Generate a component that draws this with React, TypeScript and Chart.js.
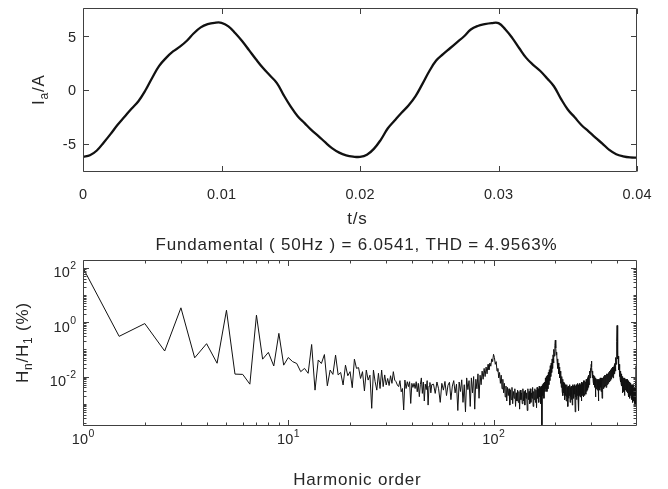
import React, { useEffect, useRef } from 'react';
import { Chart, registerables } from 'chart.js';

Chart.register(...registerables);

const W = 668;
const H = 489;
const FONT = '"Liberation Sans", Arial, Helvetica, sans-serif';
const INK = '#262626';
const AXIS = '#404040';
const TICK_SIZE = 14.5;
const TICK_SPACING = 0.3;
const LABEL_SIZE = 17;
const LABEL_SPACING = 0.8;
const LABEL_SHIFT = -3;

// ---------- top subplot: phase current ----------
const timeStepS = 0.0005; // sampling grid of the read-off waveform, 0 .. 0.04 s
const currentA = [
  -6.25, -6.1, -5.65, -4.9, -4.1, -3.25, -2.5, -1.75, -1.05, -0.05, 1.15, 2.25, 3.0, 3.6, 4.05, 4.6, 5.3, 5.85, 6.15, 6.28, 6.28,
  5.95, 5.3, 4.55, 3.7, 2.85, 2.05, 1.35, 0.65, -0.5, -1.55, -2.45, -3.1, -3.75, -4.3, -4.9, -5.45, -5.85, -6.1, -6.22, -6.25,
  -6.05, -5.5, -4.65, -3.6, -2.85, -2.12, -1.45, -0.6, 0.55, 1.75, 2.75, 3.35, 3.9, 4.45, 5.0, 5.65, 5.98, 6.15, 6.25, 6.25,
  5.65, 4.85, 3.9, 3.0, 2.35, 1.8, 1.1, 0.35, -0.8, -1.82, -2.55, -3.29, -3.86, -4.45, -5.0, -5.6, -6.0, -6.2, -6.3, -6.32,
];
const timeTicks = [0, 0.01, 0.02, 0.03, 0.04];
const timeTickLabels = ['0', '0.01', '0.02', '0.03', '0.04'];
const currentTicks = [-5, 0, 5];
const currentTickLabels = ['-5', '0', '5'];
const timeRange = [0, 0.04];
const currentRange = [-7.66, 7.66];

// ---------- bottom subplot: harmonic spectrum (log10 of Hn/H1 in %) ----------
// orders 1 .. 50 in steps of 0.5
const harmonicLowLog10 = [
  2.0, -0.52, -0.05, -1.06, 0.53, -1.31, -0.79, -1.51, 0.44, -1.91, -1.92, -2.28, 0.26, -1.36, -1.11, -1.61, -0.41, -1.58, -1.3,
  -1.45, -1.52, -1.82, -1.7, -1.88, -0.82, -2.5, -1.39, -1.52, -1.19, -2.34, -1.76, -1.92, -1.21, -1.94, -1.85, -2.31, -1.58, -1.97, -1.82,
  -2.41, -1.36, -1.7, -1.67, -2.07, -1.82, -2.53, -1.76, -2.13, -1.95, -3.17, -1.76, -2.19, -2.5, -1.88, -2.44, -1.76, -2.37, -1.94, -2.31,
  -2.07, -2.33, -1.97, -2.25, -1.82, -2.13, -2.19, -2.31, -2.37, -2.15, -2.56, -2.44, -3.23, -2.13, -2.44, -2.19, -2.37, -2.19, -2.99, -2.25,
  -2.4, -2.25, -2.44, -2.19, -2.56, -2.25, -2.74, -2.3, -2.05, -2.62, -2.2, -2.9, -2.28, -2.48, -2.15, -3.05, -2.35, -2.22, -2.6, -2.3,
];
// orders 51 .. 500 in steps of 1
const harmonicHighLog10 = [
  -2.28, -2.62, -2.2, -2.45, -2.95, -2.25, -2.5, -2.18, -2.7, -2.32,
  -2.21, -2.85, -2.35, -2.15, -2.6, -2.28, -3.25, -2.2, -2.55, -2.12,
  -2.95, -2.3, -3.3, -2.05, -2.48, -2.15, -3.1, -2.05, -2.6, -2.0,
  -3.2, -2.1, -2.45, -1.9, -2.8, -1.95, -2.3, -1.8, -2.1, -1.7,
  -2.0, -1.65, -1.9, -1.55, -1.75, -1.5, -1.62, -1.35, -1.45, -1.18,
  -1.3, -1.55, -1.45, -1.8, -1.7, -2.05, -1.85, -2.25, -1.95, -2.45,
  -2.1, -2.6, -2.25, -2.75, -2.35, -2.9, -2.4, -2.7, -2.45, -3.05,
  -2.5, -2.85, -2.4, -3.0, -2.55, -2.8, -2.45, -3.1, -2.6, -2.9,
  -2.5, -2.95, -2.55, -3.2, -2.5, -2.85, -2.6, -3.0, -2.45, -2.9,
  -2.55, -3.05, -2.5, -2.8, -2.6, -3.25, -2.45, -2.85, -2.55, -3.0,
  -2.45, -2.95, -2.6, -2.8, -2.4, -3.1, -2.55, -2.85, -2.45, -2.95,
  -2.5, -3.15, -2.4, -2.8, -2.45, -2.95, -2.35, -2.75, -2.4, -3.0,
  -2.35, -3.78, -2.3, -2.7, -2.25, -2.8, -2.2, -2.55, -2.05, -2.45,
  -2.0, -2.55, -1.95, -2.45, -1.85, -2.3, -1.75, -2.15, -1.6, -2.0,
  -1.5, -1.85, -1.35, -1.7, -1.2, -1.5, -1.0, -1.25, -0.85, -0.66,
  -0.95, -1.2, -1.1, -1.45, -1.35, -1.7, -1.5, -1.9, -1.65, -2.05,
  -1.8, -2.25, -1.9, -2.4, -2.0, -2.55, -2.1, -2.7, -2.2, -2.6,
  -2.25, -2.85, -2.3, -2.7, -2.35, -2.9, -2.3, -2.75, -2.4, -3.1,
  -2.35, -2.8, -2.4, -2.7, -2.3, -2.95, -2.4, -2.75, -2.35, -2.85,
  -2.4, -3.05, -2.3, -2.7, -2.35, -2.8, -2.3, -2.65, -2.4, -3.3,
  -2.35, -2.75, -2.3, -2.85, -2.35, -2.7, -2.25, -2.8, -2.3, -3.25,
  -2.35, -2.7, -2.25, -2.75, -2.3, -2.65, -2.25, -2.9, -2.2, -2.7,
  -2.25, -2.6, -2.2, -2.75, -2.15, -2.6, -2.2, -2.7, -2.15, -2.55,
  -2.2, -2.65, -2.1, -2.55, -2.15, -2.5, -2.05, -2.45, -2.0, -2.4,
  -1.95, -2.3, -1.9, -2.15, -1.8, -2.05, -1.7, -1.85, -1.55, -1.43,
  -1.65, -1.85, -1.8, -2.05, -1.9, -2.2, -1.95, -2.3, -2.0, -2.4,
  -2.05, -2.35, -2.1, -2.75, -2.05, -2.4, -2.1, -2.45, -2.15, -2.5,
  -2.1, -2.4, -2.15, -2.9, -2.1, -2.45, -2.15, -2.4, -2.1, -2.5,
  -2.05, -2.4, -2.1, -2.55, -2.05, -2.35, -2.1, -2.8, -2.05, -2.4,
  -2.05, -2.35, -2.0, -2.45, -2.05, -2.3, -2.0, -2.4, -1.95, -2.35,
  -2.0, -2.3, -1.95, -2.4, -1.95, -2.25, -1.9, -2.3, -1.95, -2.2,
  -1.9, -2.25, -1.85, -2.2, -1.9, -2.15, -1.85, -2.2, -1.8, -2.1,
  -1.8, -2.15, -1.75, -2.05, -1.75, -2.1, -1.7, -2.0, -1.65, -1.95,
  -1.75, -2.05, -1.7, -2.0, -1.65, -1.95, -1.6, -1.9, -1.55, -1.85,
  -1.5, -1.8, -1.45, -1.7, -1.3, -1.55, -1.15, -1.05, -0.7, -0.12,
  -0.75, -1.05, -1.0, -1.35, -1.25, -1.6, -1.45, -1.75, -1.55, -1.9,
  -1.65, -2.0, -1.75, -2.1, -1.8, -2.2, -1.85, -2.25, -1.9, -2.35,
  -1.95, -2.3, -2.0, -2.6, -2.0, -2.35, -2.05, -2.45, -2.05, -2.4,
  -2.1, -2.55, -2.1, -2.4, -2.05, -2.7, -2.1, -2.45, -2.15, -2.5,
  -2.1, -2.45, -2.15, -2.55, -2.1, -2.4, -2.15, -2.6, -2.1, -2.45,
  -2.2, -2.55, -2.15, -2.75, -2.2, -2.5, -2.25, -2.65, -2.2, -2.55,
  -2.25, -2.8, -2.25, -2.6, -2.3, -2.7, -2.25, -2.6, -2.3, -2.85,
  -2.3, -2.65, -2.35, -2.75, -2.3, -2.7, -2.35, -2.95, -2.3, -2.75,
  -2.4, -2.9, -2.35, -2.8, -2.4, -3.0, -2.4, -2.8, -2.45, -3.05,
  -2.35, -2.85, -2.2, -2.9, -1.6, -2.7, -2.3, -2.95, -1.75, -3.1,
];
const lowOrderStart = 1;
const lowOrderStep = 0.5;
const highOrderStart = 51;
const orderRange = [1, 500];
const ratioRangeLog10 = [-3.82, 2.29];
const orderMajorTicks = [1, 10, 100];
const orderTickExponents = ['0', '1', '2'];
const ratioMajorTicks = [1e-2, 1, 1e2];
const ratioTickExponents = ['-2', '0', '2'];
const titleText = 'Fundamental ( 50Hz ) = 6.0541, THD = 4.9563%';
const xLabelTop = 't/s';
const xLabelBottom = 'Harmonic order';

type Part = { t: string; size: number; dy?: number };

function partsWidth(ctx: CanvasRenderingContext2D, parts: Part[], spacing: number) {
  let w = 0;
  (ctx as any).letterSpacing = '0px';
  for (const p of parts) {
    ctx.font = `${p.size}px ${FONT}`;
    w += ctx.measureText(p.t).width + spacing * p.t.length;
  }
  return w - spacing;
}

function drawParts(
  ctx: CanvasRenderingContext2D,
  parts: Part[],
  x: number,
  y: number,
  align: 'left' | 'center' | 'right',
  spacing: number,
  angle = 0
) {
  ctx.save();
  ctx.translate(x, y);
  if (angle) ctx.rotate(angle);
  const w = partsWidth(ctx, parts, spacing);
  let cx = align === 'center' ? -w / 2 : align === 'right' ? -w : 0;
  ctx.textAlign = 'left';
  ctx.textBaseline = 'alphabetic';
  ctx.fillStyle = INK;
  for (const p of parts) {
    ctx.font = `${p.size}px ${FONT}`;
    (ctx as any).letterSpacing = '0px';
    const mw = ctx.measureText(p.t).width;
    (ctx as any).letterSpacing = `${spacing}px`;
    ctx.fillText(p.t, cx, p.dy || 0);
    cx += mw + spacing * p.t.length;
  }
  (ctx as any).letterSpacing = '0px';
  ctx.restore();
}

function drawFrame(
  chart: any,
  xMajor: number[],
  xMinor: number[],
  yMajor: number[],
  yMinor: number[]
) {
  const ctx: CanvasRenderingContext2D = chart.ctx;
  const { left, right, top, bottom } = chart.chartArea;
  const xs = chart.scales.x;
  const ys = chart.scales.y;
  const L = Math.round(left) + 0.5;
  const R = Math.round(right) - 0.5;
  const T = Math.round(top) + 0.5;
  const B = Math.round(bottom) - 0.5;
  ctx.save();
  ctx.strokeStyle = AXIS;
  ctx.lineWidth = 1;
  ctx.beginPath();
  ctx.rect(L, T, R - L, B - T);
  ctx.stroke();
  const vt = (v: number, len: number) => {
    const px = Math.round(xs.getPixelForValue(v)) + 0.5;
    ctx.moveTo(px, B);
    ctx.lineTo(px, B - len);
    ctx.moveTo(px, T);
    ctx.lineTo(px, T + len);
  };
  const ht = (v: number, len: number) => {
    const py = Math.round(ys.getPixelForValue(v)) + 0.5;
    ctx.moveTo(L, py);
    ctx.lineTo(L + len, py);
    ctx.moveTo(R, py);
    ctx.lineTo(R - len, py);
  };
  ctx.beginPath();
  xMajor.forEach((v) => vt(v, 5.5));
  xMinor.forEach((v) => vt(v, 3));
  yMajor.forEach((v) => ht(v, 5.5));
  yMinor.forEach((v) => ht(v, 3));
  ctx.stroke();
  ctx.restore();
}

export default function App() {
  const topRef = useRef<HTMLCanvasElement>(null);
  const botRef = useRef<HTMLCanvasElement>(null);

  useEffect(() => {
    const wavePoints = currentA.map((v, i) => ({ x: i * timeStepS, y: v }));
    const spectrumPoints = [
      ...harmonicLowLog10.map((v, i) => ({ x: lowOrderStart + i * lowOrderStep, y: Math.pow(10, v) })),
      ...harmonicHighLog10.map((v, i) => ({ x: highOrderStart + i, y: Math.pow(10, v) })),
    ];

    const topPlugin = {
      id: 'matlabTop',
      afterDraw(chart: any) {
        const ctx: CanvasRenderingContext2D = chart.ctx;
        drawFrame(chart, timeTicks, [], currentTicks, []);
        const xs = chart.scales.x;
        const ys = chart.scales.y;
        currentTicks.forEach((v, i) => {
          drawParts(ctx, [{ t: currentTickLabels[i], size: TICK_SIZE }], 76, ys.getPixelForValue(v) + 5.2, 'right', TICK_SPACING);
        });
        timeTicks.forEach((v, i) => {
          drawParts(ctx, [{ t: timeTickLabels[i], size: TICK_SIZE }], xs.getPixelForValue(v), 198.5, 'center', TICK_SPACING);
        });
        const { left, right, top, bottom } = chart.chartArea;
        drawParts(ctx, [{ t: xLabelTop, size: LABEL_SIZE }], (left + right) / 2 + LABEL_SHIFT, 223.5, 'center', LABEL_SPACING);
        drawParts(
          ctx,
          [
            { t: 'I', size: LABEL_SIZE },
            { t: 'a', size: 12, dy: 3.5 },
            { t: '/A', size: LABEL_SIZE },
          ],
          44,
          (top + bottom) / 2,
          'center',
          LABEL_SPACING,
          -Math.PI / 2
        );
      },
    };

    const xMinorLog: number[] = [];
    for (let n = 0; n <= 2; n++) {
      for (let k = 2; k <= 9; k++) {
        const v = k * Math.pow(10, n);
        if (v < orderRange[1]) xMinorLog.push(v);
      }
    }
    const yMinorLog: number[] = [];
    for (let n = -4; n <= 2; n++) {
      for (let k = 1; k <= 9; k++) {
        const v = k * Math.pow(10, n);
        const lv = Math.log10(v);
        if (lv > ratioRangeLog10[0] && lv < ratioRangeLog10[1] && !(k === 1 && n % 2 === 0)) yMinorLog.push(v);
      }
    }

    const botPlugin = {
      id: 'matlabBottom',
      afterDraw(chart: any) {
        const ctx: CanvasRenderingContext2D = chart.ctx;
        drawFrame(chart, orderMajorTicks, xMinorLog, ratioMajorTicks, yMinorLog);
        const xs = chart.scales.x;
        const ys = chart.scales.y;
        const { left, right, top, bottom } = chart.chartArea;
        orderMajorTicks.forEach((v, i) => {
          drawParts(
            ctx,
            [
              { t: '10', size: TICK_SIZE },
              { t: orderTickExponents[i], size: 10.5, dy: -7 },
            ],
            xs.getPixelForValue(v),
            444,
            'center',
            TICK_SPACING
          );
        });
        ratioMajorTicks.forEach((v, i) => {
          drawParts(
            ctx,
            [
              { t: '10', size: TICK_SIZE },
              { t: ratioTickExponents[i], size: 10.5, dy: -7.8 },
            ],
            76,
            ys.getPixelForValue(v) + 9.3,
            'right',
            TICK_SPACING
          );
        });
        drawParts(ctx, [{ t: titleText, size: LABEL_SIZE }], (left + right) / 2 + LABEL_SHIFT - 1, 250, 'center', LABEL_SPACING);
        drawParts(ctx, [{ t: xLabelBottom, size: LABEL_SIZE }], (left + right) / 2 + LABEL_SHIFT, 485, 'center', LABEL_SPACING);
        drawParts(
          ctx,
          [
            { t: 'H', size: LABEL_SIZE },
            { t: 'n', size: 12, dy: 3.5 },
            { t: '/H', size: LABEL_SIZE },
            { t: '1', size: 12, dy: 3.5 },
            { t: ' (%)', size: LABEL_SIZE },
          ],
          28,
          (top + bottom) / 2,
          'center',
          LABEL_SPACING,
          -Math.PI / 2
        );
      },
    };

    const c1 = new Chart(topRef.current as HTMLCanvasElement, {
      type: 'line',
      data: {
        datasets: [
          {
            data: wavePoints,
            borderColor: '#111111',
            borderWidth: 2.3,
            pointRadius: 0,
            tension: 0.4,
            fill: false,
          },
        ],
      },
      options: {
        responsive: false,
        animation: false,
        devicePixelRatio: 1,
        events: [],
        layout: { padding: { left: 83, right: 31, top: 8, bottom: 317 } },
        plugins: { legend: { display: false }, tooltip: { enabled: false }, title: { display: false } },
        scales: {
          x: { type: 'linear', min: timeRange[0], max: timeRange[1], display: false },
          y: { type: 'linear', min: currentRange[0], max: currentRange[1], display: false },
        },
      },
      plugins: [topPlugin],
    } as any);

    const c2 = new Chart(botRef.current as HTMLCanvasElement, {
      type: 'line',
      data: {
        datasets: [
          {
            data: spectrumPoints,
            borderColor: '#111111',
            borderWidth: 1,
            pointRadius: 0,
            tension: 0,
            fill: false,
          },
        ],
      },
      options: {
        responsive: false,
        animation: false,
        devicePixelRatio: 1,
        events: [],
        layout: { padding: { left: 83, right: 31, top: 260, bottom: 63 } },
        plugins: { legend: { display: false }, tooltip: { enabled: false }, title: { display: false } },
        scales: {
          x: { type: 'logarithmic', min: orderRange[0], max: orderRange[1], display: false },
          y: {
            type: 'logarithmic',
            min: Math.pow(10, ratioRangeLog10[0]),
            max: Math.pow(10, ratioRangeLog10[1]),
            display: false,
          },
        },
      },
      plugins: [botPlugin],
    } as any);

    return () => {
      c1.destroy();
      c2.destroy();
    };
  }, []);

  const canvasStyle: React.CSSProperties = { position: 'absolute', left: 0, top: 0, width: W, height: H };
  return (
    <div style={{ position: 'fixed', left: 0, top: 0, width: W, height: H, background: '#ffffff' }}>
      <canvas ref={topRef} width={W} height={H} style={canvasStyle} />
      <canvas ref={botRef} width={W} height={H} style={canvasStyle} />
    </div>
  );
}
